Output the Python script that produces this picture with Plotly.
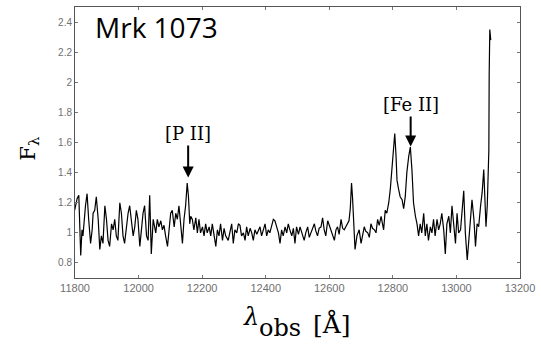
import plotly.graph_objects as go

wavelength = [
    11799, 11807, 11812, 11815, 11818, 11822, 11825, 11833, 11838, 11843,
    11849, 11854, 11857, 11862, 11867, 11873, 11878, 11883, 11888, 11894,
    11899, 11904, 11909, 11915, 11920, 11925, 11930, 11935, 11941, 11946,
    11951, 11956, 11962, 11967, 11972, 11977, 11983, 11988, 11993, 11998,
    12004, 12009, 12014, 12019, 12025, 12030, 12035, 12040,
    12046, 12054, 12059, 12064, 12070, 12075, 12080, 12085, 12091, 12096,
    12101, 12106, 12112, 12117, 12122, 12127, 12133, 12138, 12143, 12148,
    12153, 12157, 12161, 12164, 12169, 12174, 12180, 12185, 12190, 12195,
    12201, 12206, 12211, 12216, 12222, 12227, 12232, 12237, 12243, 12248,
    12253, 12258, 12264, 12269, 12274,
    12282, 12288, 12293, 12298, 12303, 12309, 12314, 12319, 12324, 12330,
    12335, 12340, 12345, 12351, 12356, 12361, 12366, 12372, 12377, 12382,
    12387, 12393, 12398, 12403, 12408, 12413, 12419, 12424, 12429, 12434,
    12440, 12445, 12450, 12455, 12461, 12466, 12471, 12476, 12482, 12487,
    12492, 12497, 12503, 12508,
    12516, 12521, 12526, 12532, 12537, 12542, 12547, 12553, 12558, 12563,
    12568, 12574, 12579, 12584, 12589, 12595, 12600, 12605, 12610, 12616,
    12621, 12626, 12631, 12637, 12642, 12647, 12652, 12658, 12662, 12666,
    12670, 12673, 12677, 12681, 12687, 12694, 12700, 12705, 12710, 12715,
    12721, 12726, 12731, 12736, 12742, 12747, 12752, 12757, 12763,
    12771, 12776, 12781, 12787, 12792, 12797, 12802, 12806, 12810, 12813,
    12818, 12823, 12829, 12834, 12839, 12844, 12850, 12855, 12860, 12865,
    12871, 12876, 12881, 12886, 12891, 12897, 12902, 12907, 12912, 12918,
    12923, 12928, 12933, 12939, 12944, 12949, 12954, 12960, 12965, 12970,
    12976, 12981, 12986, 12992, 12997, 13002, 13007, 13013, 13018, 13023,
    13028, 13034, 13039, 13044, 13049, 13055, 13060, 13065, 13070, 13076,
    13081, 13086, 13089, 13093, 13097, 13100, 13102, 13103, 13105, 13108,
]

flux = [
    1.15, 1.23, 1.25, 0.98, 0.85, 1.02, 0.98, 1.18, 1.26, 1.09,
    0.93, 1.02, 1.13, 1.15, 1.24, 1.09, 0.89, 0.98, 0.93, 1.18,
    1.09, 0.95, 0.91, 1.06, 1.02, 1.09, 0.98, 0.95, 1.20, 1.13,
    0.98, 0.93, 1.06, 1.13, 1.18, 1.09, 0.98, 1.04, 1.15, 1.09,
    0.91, 1.02, 1.13, 1.18, 0.98, 0.95, 1.25, 0.86,
    1.09, 1.00, 1.09, 1.04, 1.08, 1.02, 1.05, 0.98, 0.91, 1.02,
    1.13, 1.15, 1.04, 1.13, 1.09, 1.18, 1.06, 0.93, 1.09, 1.18,
    1.33, 1.24, 1.06, 1.11, 1.09, 1.02, 1.10, 1.00, 1.09, 1.00,
    1.04, 0.98, 1.06, 1.00, 1.04, 0.98, 1.06, 0.98, 0.91, 1.02,
    0.98, 1.06, 0.95, 1.03, 0.98,
    0.95, 1.00, 1.06, 0.93, 1.02, 1.00, 1.06, 1.05, 0.98, 1.00,
    0.95, 1.04, 0.98, 1.03, 1.00, 0.95, 1.02, 0.99, 1.01, 1.04,
    0.98, 1.02, 1.06, 0.98, 1.02, 1.00, 1.05, 1.09, 1.08, 1.04,
    1.00, 0.93, 1.02, 0.98, 1.04, 1.00, 1.06, 1.02, 0.98, 1.03,
    0.93, 1.04, 0.99, 1.04,
    0.98, 0.95, 1.00, 1.04, 0.97, 1.00, 1.03, 1.06, 1.01, 0.98,
    1.03, 1.04, 1.10, 1.02, 0.98, 1.08, 1.05, 1.02, 0.99, 0.95,
    1.02, 1.04, 0.99, 1.09, 1.03, 1.02, 1.04, 1.06, 1.08, 1.16,
    1.33, 1.24, 1.00, 0.89, 0.98, 1.02, 0.93, 0.99, 1.04, 1.01,
    1.00, 0.97, 1.06, 1.03, 1.02, 1.00, 1.09, 1.05, 1.11,
    1.02, 1.15, 1.13, 1.20, 1.29, 1.42, 1.55, 1.66, 1.51, 1.35,
    1.29, 1.24, 1.22, 1.16, 1.24, 1.40, 1.51, 1.57, 1.42, 1.20,
    1.11, 1.06, 0.98, 1.06, 1.00, 1.13, 0.98, 1.06, 0.95, 1.04,
    1.00, 1.09, 0.98, 1.09, 1.02, 1.06, 1.13, 1.02, 0.86, 1.06,
    1.11, 1.00, 1.18, 1.02, 0.93, 1.13, 1.00, 1.02, 1.13, 1.28,
    1.00, 0.82, 0.95, 1.11, 1.22, 1.09, 0.91, 1.06, 1.04, 1.18,
    1.27, 1.42, 1.22, 1.04, 1.18, 1.35, 1.55, 2.04, 2.35, 2.28,
]

x_tick_values = [11800, 12000, 12200, 12400, 12600, 12800, 13000, 13200]
x_tick_labels = ["11800", "12000", "12200", "12400", "12600", "12800", "13000", "13200"]
y_tick_values = [0.8, 1.0, 1.2, 1.4, 1.6, 1.8, 2.0, 2.2, 2.4]
y_tick_labels = ["0.8", "1", "1.2", "1.4", "1.6", "1.8", "2", "2.2", "2.4"]

# Line identifications: label, arrow tip wavelength, arrow tip flux, label offset above tip (px)
line_ids = [
    ("[P II]", 12156, 1.367, -44),
    ("[Fe II]", 12856, 1.573, -42),
]

fig = go.Figure()
fig.add_trace(go.Scatter(
    x=wavelength, y=flux, mode="lines",
    line=dict(color="black", width=1.2),
    showlegend=False, hoverinfo="skip",
))

axis_common = dict(
    showgrid=False, zeroline=False, showline=True, linecolor="#555555",
    linewidth=1, mirror="ticks", ticks="inside", ticklen=3, tickcolor="#777777",
)

fig.update_xaxes(
    range=[11800, 13200], tickvals=x_tick_values, ticktext=x_tick_labels,
    tickfont=dict(family="Liberation Sans, Arial", size=11, color="#707070"),
    **axis_common,
)
fig.update_yaxes(
    range=[0.7, 2.5], tickvals=y_tick_values, ticktext=y_tick_labels,
    tickfont=dict(family="Liberation Sans, Arial", size=10, color="#707070"),
    **axis_common,
)

annotations = []
for label, tx, ty, ay in line_ids:
    annotations.append(dict(
        x=tx, y=ty, xref="x", yref="y", text=label, showarrow=True,
        ax=0, ay=ay, arrowhead=2, arrowsize=1.1, arrowwidth=2, arrowcolor="black",
        font=dict(family="DejaVu Serif", size=18, color="black"),
    ))

# Title inside plot
annotations.append(dict(
    x=0.1823, y=0.9246, xref="paper", yref="paper", text="Mrk 1073",
    showarrow=False, font=dict(family="Open Sans", size=28, color="black"),
    xanchor="center", yanchor="middle",
))

# Y axis label F_lambda
annotations.append(dict(
    x=-0.103, y=0.478, xref="paper", yref="paper", text="F<sub>λ</sub>",
    textangle=-90, showarrow=False,
    font=dict(family="DejaVu Serif", size=21, color="black"),
    xanchor="center", yanchor="middle",
))

# X axis label lambda_obs [Å]
annotations.append(dict(
    x=(242 - 75) / 447, y=(278 - 317) / 272, xref="paper", yref="paper",
    text="<i>λ</i>", showarrow=False,
    font=dict(family="DejaVu Serif", size=24, color="black"),
    xanchor="left", yanchor="middle",
))
annotations.append(dict(
    x=(258 - 75) / 447, y=(278 - 328.5) / 272, xref="paper", yref="paper",
    text="obs", showarrow=False,
    font=dict(family="DejaVu Serif", size=24, color="black"),
    xanchor="left", yanchor="middle",
))
annotations.append(dict(
    x=(312 - 75) / 447, y=(278 - 324) / 272, xref="paper", yref="paper",
    text="[Å]", showarrow=False,
    font=dict(family="DejaVu Serif", size=25, color="black"),
    xanchor="left", yanchor="middle",
))

fig.update_layout(
    width=541, height=347,
    margin=dict(l=75, r=19, t=6, b=69),
    paper_bgcolor="white", plot_bgcolor="white",
    annotations=annotations,
)

fig.write_html(
    "out.html",
    config={"displayModeBar": False},
    post_script="document.body.style.margin='0';document.body.style.overflow='hidden';",
)
